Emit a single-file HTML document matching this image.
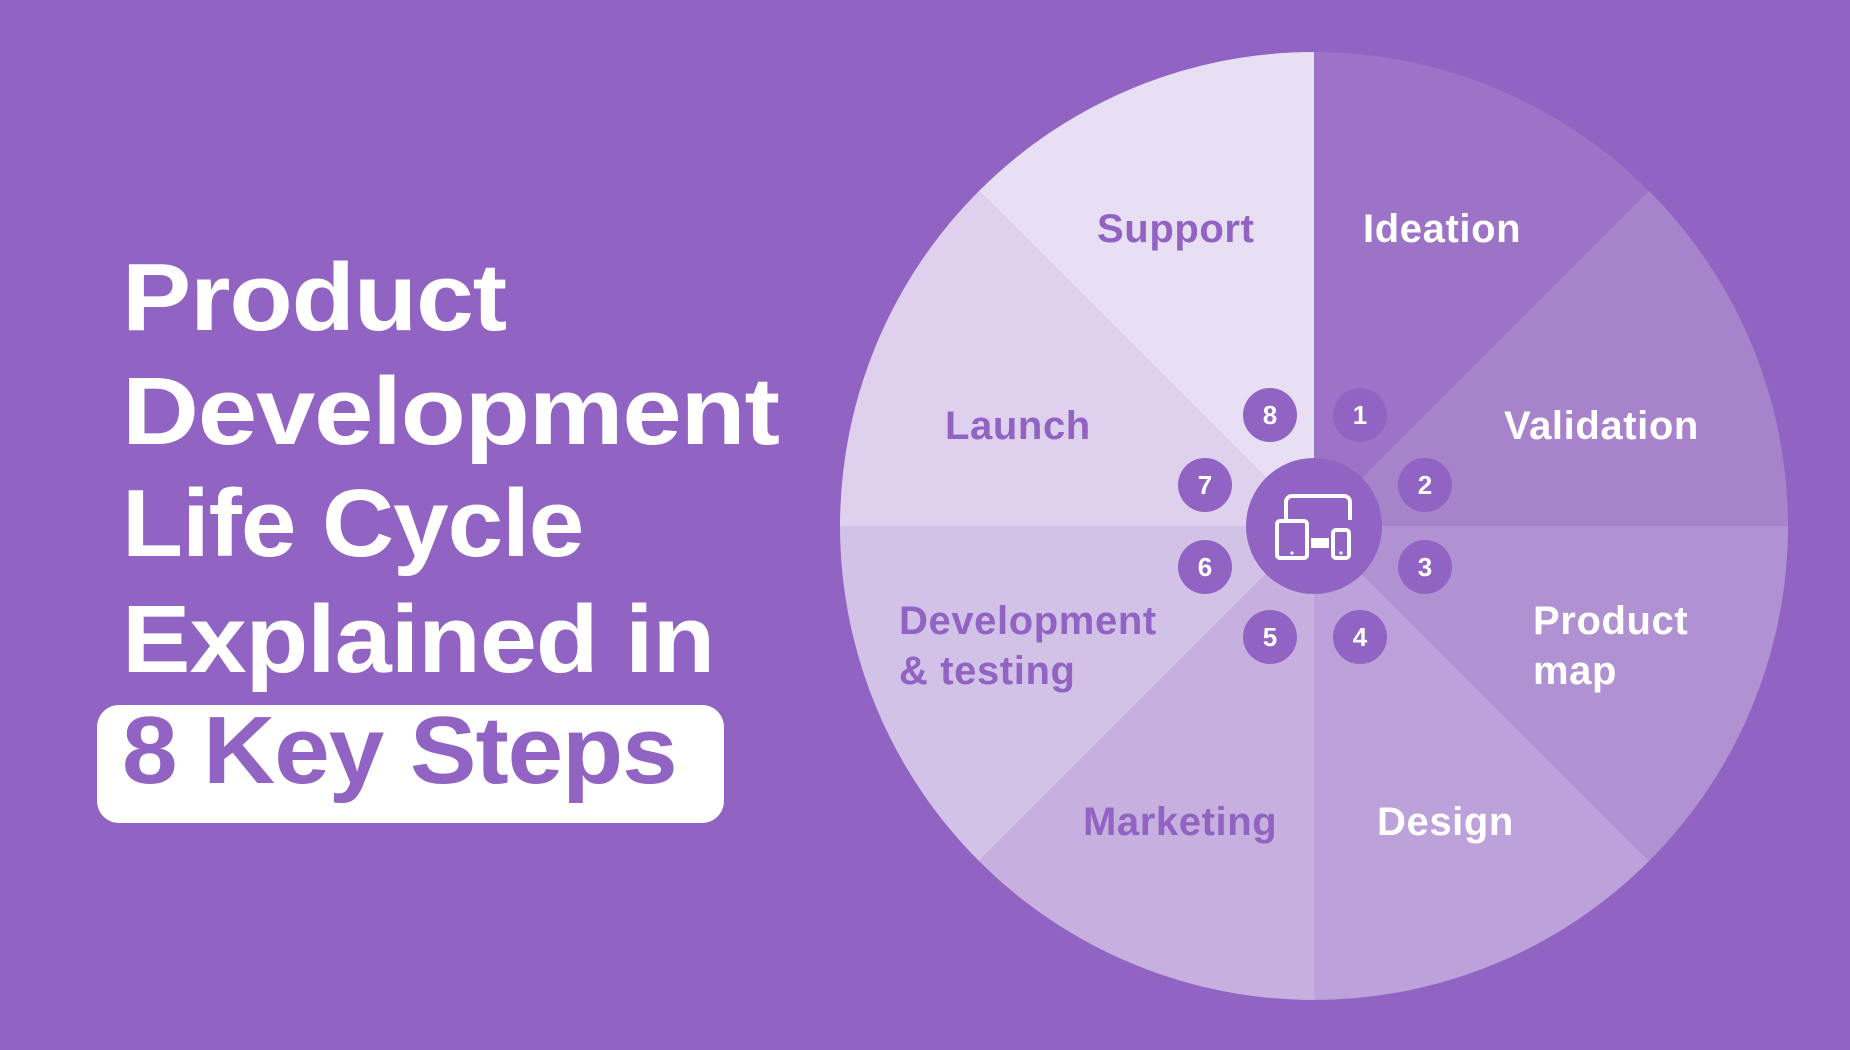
<!DOCTYPE html>
<html><head><meta charset="utf-8"><style>
html,body{margin:0;padding:0}
body{width:1850px;height:1050px;background:#9163c3;overflow:hidden;position:relative;font-family:"Liberation Sans",sans-serif}
.t{position:absolute;left:122px;color:#fff;font-weight:bold;font-size:96px;line-height:1;letter-spacing:-1px;white-space:nowrap;transform-origin:left top}
.box{position:absolute;left:97px;top:705px;width:627px;height:118px;background:#fff;border-radius:22px}
</style></head><body>
<div class="t" style="top:250px;transform:scaleX(1.08)">Product</div>
<div class="t" style="top:364px;transform:scaleX(1.11)">Development</div>
<div class="t" style="top:476px;transform:scaleX(1.04)">Life Cycle</div>
<div class="t" style="top:592px;transform:scaleX(1.07)">Explained in</div>
<div class="box"></div>
<div class="t" style="top:703px;color:#9163c3;transform:scaleX(1.04)">8 Key Steps</div>
<svg width="1850" height="1050" style="position:absolute;left:0;top:0">
<g>
<path d="M1314 526 L1314 52 A474 474 0 0 1 1649 191 Z" fill="#9c73c7"/>
<path d="M1314 526 L1649 191 A474 474 0 0 1 1788 526 Z" fill="#a783cc"/>
<path d="M1314 526 L1788 526 A474 474 0 0 1 1649 861 Z" fill="#b092d3"/>
<path d="M1314 526 L1649 861 A474 474 0 0 1 1314 1000 Z" fill="#bca1da"/>
<path d="M1314 526 L1314 1000 A474 474 0 0 1 979 861 Z" fill="#c7afdf"/>
<path d="M1314 526 L979 861 A474 474 0 0 1 840 526 Z" fill="#d3c2e7"/>
<path d="M1314 526 L840 526 A474 474 0 0 1 979 191 Z" fill="#dfd1ed"/>
<path d="M1314 526 L979 191 A474 474 0 0 1 1314 52 Z" fill="#e9dff4"/>
</g>
<g font-family="Liberation Sans, sans-serif" font-weight="bold" font-size="40" letter-spacing="0.6">
<text x="1097" y="242" fill="#9163c3">Support</text>
<text x="1363" y="242" fill="#fff">Ideation</text>
<text x="945" y="439" fill="#9163c3">Launch</text>
<text x="1504" y="439" fill="#fff">Validation</text>
<text x="899" y="634" fill="#9163c3">Development</text>
<text x="899" y="684" fill="#9163c3">&amp; testing</text>
<text x="1533" y="634" fill="#fff">Product</text>
<text x="1533" y="684" fill="#fff">map</text>
<text x="1083" y="835" fill="#9163c3">Marketing</text>
<text x="1377" y="835" fill="#fff">Design</text>
</g>
<g fill="#9163c3">
<circle cx="1314" cy="526" r="68"/>
<circle cx="1270" cy="415" r="27"/><circle cx="1360" cy="415" r="27"/>
<circle cx="1205" cy="485" r="27"/><circle cx="1425" cy="485" r="27"/>
<circle cx="1205" cy="567" r="27"/><circle cx="1425" cy="567" r="27"/>
<circle cx="1270" cy="637" r="27"/><circle cx="1360" cy="637" r="27"/>
</g>
<g font-family="Liberation Sans, sans-serif" font-weight="bold" font-size="26" fill="#fff" text-anchor="middle">
<text x="1270" y="424">8</text><text x="1360" y="424">1</text>
<text x="1205" y="494">7</text><text x="1425" y="494">2</text>
<text x="1205" y="576">6</text><text x="1425" y="576">3</text>
<text x="1270" y="646">5</text><text x="1360" y="646">4</text>
</g>
<g fill="none" stroke="#fff" stroke-width="4">
<path d="M1286 520 V502 a6 6 0 0 1 6 -6 h52 a6 6 0 0 1 6 6 V520"/>
<rect x="1277" y="521" width="30" height="37" rx="3"/>
<rect x="1333" y="530" width="16" height="28" rx="3"/>
</g>
<rect x="1311" y="538" width="18" height="10" fill="#fff"/>
<circle cx="1292" cy="553" r="1.6" fill="#fff"/><circle cx="1341" cy="553" r="1.6" fill="#fff"/>
</svg>
</body></html>
